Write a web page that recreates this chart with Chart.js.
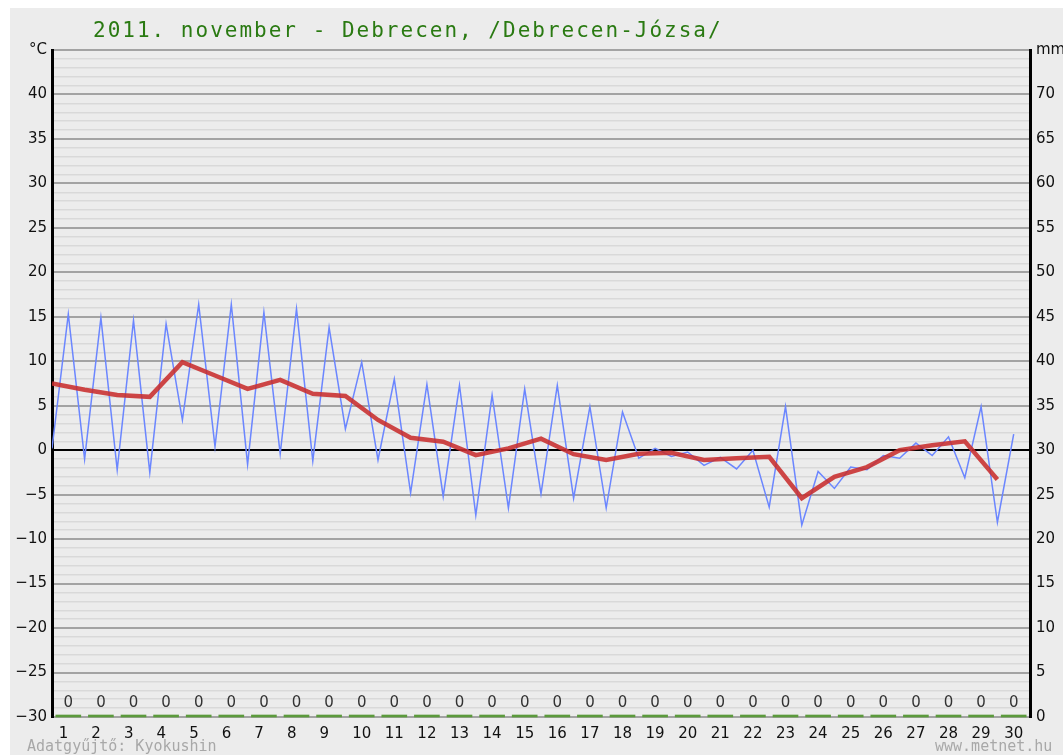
<!DOCTYPE html>
<html>
<head>
<meta charset="utf-8">
<script src="https://cdn.jsdelivr.net/npm/chart.js@4"></script>
<style>
  html, body { margin: 0; padding: 0; background: #fff; }
  #wrap { width: 1063px; height: 755px; position: relative; }
</style>
</head>
<body>
<div id="wrap"><canvas id="chart" width="1063" height="755"></canvas></div>
<script>
// Days of the month
const days = [1,2,3,4,5,6,7,8,9,10,11,12,13,14,15,16,17,18,19,20,21,22,23,24,25,26,27,28,29,30];

// Half-day temperatures (alternating min / max), °C
const tempHalfDay = [
  0.2, 15.3, -1.0, 14.9, -2.2, 14.6, -2.5, 14.2, 3.4, 16.4,
  0.4, 16.4, -1.6, 15.5, -0.4, 15.9, -1.2, 13.8, 2.4, 9.9,
  -1.1, 8.0, -4.8, 7.4, -5.2, 7.3, -7.3, 6.2, -6.5, 6.9,
  -4.9, 7.3, -5.4, 4.9, -6.5, 4.3, -0.9, 0.2, -0.7, -0.2,
  -1.7, -0.8, -2.1, 0.0, -6.4, 4.9, -8.4, -2.4, -4.3, -1.9,
  -2.2, -0.6, -0.9, 0.8, -0.6, 1.5, -3.1, 4.9, -8.1, 1.8
];

// Daily mean temperature, °C
const tempMean = [
  7.5, 6.8, 6.2, 6.0, 9.9, 8.4, 6.9, 7.9, 6.35, 6.1,
  3.4, 1.4, 0.95, -0.55, 0.2, 1.3, -0.45, -1.1, -0.4, -0.3,
  -1.1, -0.9, -0.75, -5.4, -3.0, -1.9, 0.0, 0.55, 1.0, -3.3
];

// Daily precipitation, mm
const precip = [0,0,0,0,0,0,0,0,0,0,0,0,0,0,0,0,0,0,0,0,0,0,0,0,0,0,0,0,0,0];

const titleText = '2011. november - Debrecen, /Debrecen-Józsa/';

const font = 'DejaVu Sans';
const mono = 'DejaVu Sans Mono';

// page frame, title and footer texts
const framePlugin = {
  id: 'frame',
  beforeDraw(chart) {
    const ctx = chart.ctx;
    ctx.save();
    ctx.fillStyle = '#fff';
    ctx.fillRect(0, 0, chart.width, chart.height);
    ctx.fillStyle = '#ececec';
    ctx.fillRect(10, 8, chart.width - 10, chart.height - 8);
    ctx.restore();
  },
  afterDraw(chart) {
    const ctx = chart.ctx;
    ctx.save();
    ctx.font = '21px "' + mono + '"';
    ctx.letterSpacing = '2px';
    ctx.fillStyle = '#2a7a12';
    ctx.textBaseline = 'alphabetic';
    ctx.fillText(titleText, 93, 37);
    ctx.letterSpacing = '0px';
    ctx.font = '15px "' + mono + '"';
    ctx.fillStyle = '#a8a8a8';
    ctx.fillText('Adatgyűjtő: Kyokushin', 27, 751);
    ctx.fillText('www.metnet.hu', 935, 751);
    ctx.restore();
  }
};

// precipitation value labels above each column
const precipLabels = {
  id: 'precipLabels',
  afterDatasetsDraw(chart) {
    const meta = chart.getDatasetMeta(2);
    const ctx = chart.ctx;
    const yScale = chart.scales.y;
    ctx.save();
    ctx.font = '15px "' + font + '"';
    ctx.fillStyle = '#333';
    ctx.textAlign = 'center';
    ctx.textBaseline = 'middle';
    meta.data.forEach((bar, i) => {
      ctx.fillText(String(precip[i]), bar.x, Math.min(bar.y, yScale.bottom) - 12);
    });
    ctx.restore();
  }
};

new Chart(document.getElementById('chart'), {
  data: {
    datasets: [
      {
        type: 'line',
        label: 'átlag',
        data: tempMean.map((v, i) => ({ x: i, y: v })),
        borderColor: 'rgba(200, 45, 45, 0.88)',
        borderWidth: 4.5,
        pointRadius: 0,
        tension: 0,
        yAxisID: 'y'
      },
      {
        type: 'line',
        label: 'hőmérséklet',
        data: tempHalfDay.map((v, i) => ({ x: i / 2, y: v })),
        borderColor: '#6b86ff',
        borderWidth: 1.5,
        pointRadius: 0,
        tension: 0,
        yAxisID: 'y'
      },
      {
        type: 'bar',
        label: 'csapadék',
        data: precip.map((v, i) => ({ x: days[i] - 0.5, y: v })),
        backgroundColor: '#5b9a3c',
        barThickness: 25,
        minBarLength: 2,
        clip: false,
        yAxisID: 'yMm'
      }
    ]
  },
  options: {
    responsive: false,
    animation: false,
    events: [],
    layout: { padding: { top: 50, bottom: 0, left: 0, right: 0 } },
    plugins: {
      legend: { display: false },
      tooltip: { enabled: false },
      title: { display: false }
    },
    scales: {
      x: {
        type: 'linear',
        offset: false,
        min: 0,
        max: 30,
        afterBuildTicks: (scale) => {
          scale.ticks = days.map(d => ({ value: d - 0.5 }));
        },
        afterFit: (scale) => { scale.height = 38; },
        ticks: {
          autoSkip: false,
          maxRotation: 0,
          padding: 0,
          color: '#111',
          font: { family: font, size: 15 },
          callback: (v) => {
            const d = Math.round(v + 0.5);
            return d < 10 ? d + '  ' : String(d);
          }
        },
        grid: { display: false },
        border: { display: false }
      },
      y: {
        position: 'left',
        min: -30,
        max: 45,
        afterFit: (scale) => { scale.width = 52; },
        ticks: {
          stepSize: 1,
          autoSkip: false,
          padding: 5,
          color: '#111',
          font: { family: font, size: 15 },
          callback: (v) => {
            if (v === 45) return '°C';
            return v % 5 === 0 ? String(v).replace('-', '−') : '';
          }
        },
        grid: {
          drawTicks: false,
          color: (c) => {
            const v = c.tick.value;
            if (v === 0) return '#000';
            return v % 5 === 0 ? '#a3a3a3' : '#d9d9d9';
          },
          lineWidth: (c) => {
            const v = c.tick.value;
            if (v === 0) return 2;
            return v % 5 === 0 ? 2 : 1.5;
          }
        },
        border: { color: '#000', width: 3 }
      },
      yMm: {
        position: 'right',
        min: 0,
        max: 75,
        afterFit: (scale) => { scale.width = 33; },
        ticks: {
          stepSize: 5,
          autoSkip: false,
          padding: 6,
          color: '#111',
          font: { family: font, size: 15 },
          callback: (v) => v === 75 ? 'mm' : String(v)
        },
        grid: { display: false, drawTicks: false },
        border: { color: '#000', width: 3 }
      }
    }
  },
  plugins: [framePlugin, precipLabels]
});
</script>
</body>
</html>
